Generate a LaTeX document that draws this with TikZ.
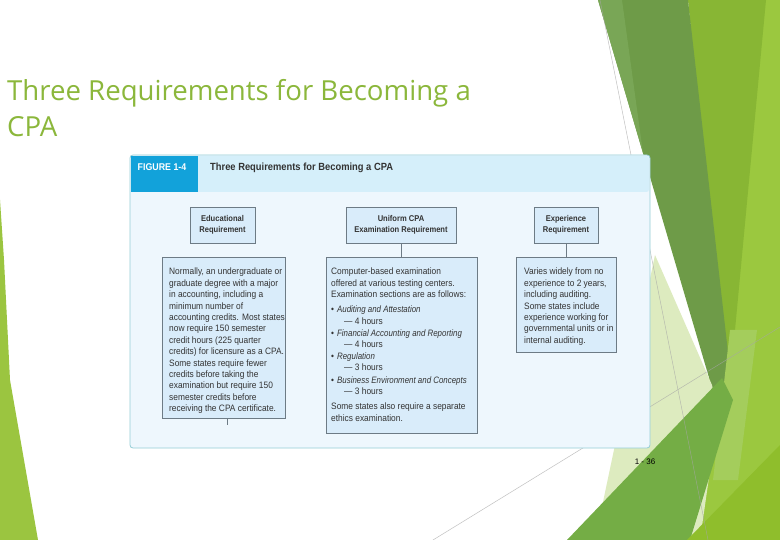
\documentclass[tikz,border=0pt]{standalone}
\usepackage{fontspec}
\setmainfont{Liberation Sans}
\newfontfamily\titlefont{Open Sans}
\newfontfamily\condfont[FakeStretch=0.9, ItalicFeatures={FakeStretch=0.85}]{Liberation Sans}
\definecolor{titlegreen}{HTML}{8BB73B}
\definecolor{figbg}{HTML}{EEF7FD}
\definecolor{figborder}{HTML}{94CDD6}
\definecolor{headbg}{HTML}{D5EFFA}
\definecolor{tabblue}{HTML}{12A2DA}
\definecolor{boxfill}{HTML}{D9ECFA}
\definecolor{boxdraw}{HTML}{6D7B85}
\definecolor{figtext}{HTML}{333333}
\definecolor{gBright}{HTML}{9BC83F}
\definecolor{gOlive}{HTML}{88B634}
\definecolor{gDark}{HTML}{6E9B48}
\definecolor{gDarkL}{HTML}{79A656}
\definecolor{gPale}{HTML}{DDEBBF}
\definecolor{gLight}{HTML}{A4CD5C}
\definecolor{gMid}{HTML}{74AD45}
\definecolor{gYel}{HTML}{8FBE2C}
\definecolor{gLeft}{HTML}{9BC540}
\tikzset{
  hdrbox/.style={draw=boxdraw, fill=boxfill, line width=0.6pt, minimum height=36pt, inner sep=0pt,
    font=\condfont\bfseries\fontsize{8.4}{10.4}\selectfont, text=figtext, align=center},
  txtbox/.style={draw=boxdraw, fill=boxfill, line width=0.6pt, inner sep=0pt},
  boxtext/.style={inner sep=0pt, anchor=north west, align=left, text=figtext,
    font=\condfont\fontsize{9.3}{11.4}\selectfont},
  link/.style={draw=boxdraw, line width=0.6pt},
  thin/.style={draw=black!35, line width=0.5pt, opacity=0.7}
}
\begin{document}
\begin{tikzpicture}[x=1pt,y=-1pt]
\useasboundingbox (0,0) rectangle (780,540);
\fill[white] (0,0) rectangle (780,540);
% decoration right
\fill[gBright] (740,0) -- (780,0) -- (780,540) -- (690,540) -- (715,330) -- cycle;
\fill[gOlive] (688,0) -- (766,0) -- (735,330) -- (725,380) -- cycle;
\fill[gDark] (598,0) -- (688,0) -- (730,370) -- (720,415) -- cycle;
\fill[gDarkL] (598,0) -- (622,0) -- (643,153) -- cycle;
\fill[gPale] (655,255) -- (712,385) -- (718,415) -- (700,540) -- (595,540) -- cycle;
\fill[gLight] (730,330) -- (757,330) -- (738,480) -- (713,480) -- cycle;
\fill[gMid] (567,540) -- (722,378) -- (733,400) -- (690,540) -- cycle;
\fill[gYel] (687,540) -- (780,445) -- (780,540) -- cycle;
\draw[thin] (600,0) -- (708,540);
\draw[thin] (433,540) -- (780,327);
% left decoration
\fill[gLeft] (0,200) -- (4,260) -- (10,380) -- (38,540) -- (0,540) -- cycle;
% title
\node[anchor=base west, inner sep=0pt, text=titlegreen, font=\titlefont\fontsize{27.6}{36}\selectfont, align=left] (title) at (7,137) {Three Requirements for Becoming a\\CPA};
% figure
\node[draw=figborder, fill=figbg, rounded corners=3pt, line width=0.8pt, minimum width=520pt, minimum height=293pt, inner sep=0pt] (fig) at (390,301.5) {};
\fill[headbg, rounded corners=2.5pt] (131,156) rectangle (649,192);
\node[fill=tabblue, minimum width=67pt, minimum height=36pt, inner sep=0pt] (tab) at (164.5,174) {};
\node[text=white, inner sep=0pt, font=\condfont\bfseries\fontsize{9.8}{11}\selectfont] (tablabel) at (162,167.5) {FIGURE 1-4};
\node[anchor=west, inner sep=0pt, text=figtext, font=\condfont\bfseries\fontsize{10.4}{11}\selectfont] (figtitle) at (210,167.5) {Three Requirements for Becoming a CPA};
% header boxes
\node[hdrbox, minimum width=65pt] (edu) at (222.5,225) {Educational\\Requirement};
\node[hdrbox, minimum width=110pt] (exam) at (401,225) {Uniform CPA\\Examination Requirement};
\node[hdrbox, minimum width=64pt] (exp) at (566,225) {Experience\\Requirement};
% text boxes
\node[txtbox, minimum width=123pt, minimum height=161pt] (edubox) at (223.5,337.5) {};
\node[txtbox, minimum width=151pt, minimum height=176pt] (exambox) at (401.5,345) {};
\node[txtbox, minimum width=100pt, minimum height=95pt] (expbox) at (566,304.5) {};
\draw[link] (exam.south) -- (exam.south |- exambox.north);
\draw[link] (exp.south) -- (exp.south |- expbox.north);
\coordinate (stub) at (227,425);
\draw[link] (stub |- edubox.south) -- (stub);
% texts
\node[boxtext] (edutext) at (169,268) {Normally, an undergraduate or\\graduate degree with a major\\in accounting, including a\\minimum number of\\accounting credits. Most states\\now require 150 semester\\credit hours (225 quarter\\credits) for licensure as a CPA.\\Some states require fewer\\credits before taking the\\examination but require 150\\semester credits before\\receiving the CPA certificate.};
\node[boxtext] (examtext) at (331,268) {Computer-based examination\\offered at various testing centers.\\Examination sections are as follows:\\[3.6pt]
\textbullet\hspace{3pt}\textit{Auditing and Attestation}\\
\hspace{13pt}— 4 hours\\[0.6pt]
\textbullet\hspace{3pt}\textit{Financial Accounting and Reporting}\\
\hspace{13pt}— 4 hours\\[0.6pt]
\textbullet\hspace{3pt}\textit{Regulation}\\
\hspace{13pt}— 3 hours\\[1.2pt]
\textbullet\hspace{3pt}\textit{Business Environment and Concepts}\\
\hspace{13pt}— 3 hours\\[3.6pt]
Some states also require a separate\\ethics examination.};
\node[boxtext] (exptext) at (524,268) {Varies widely from no\\experience to 2 years,\\including auditing.\\Some states include\\experience working for\\governmental units or in\\internal auditing.};
% footer
\node[inner sep=0pt, font=\fontsize{8}{9}\selectfont] (pagenum) at (645,462) {1 - 36};
\end{tikzpicture}
\end{document}
